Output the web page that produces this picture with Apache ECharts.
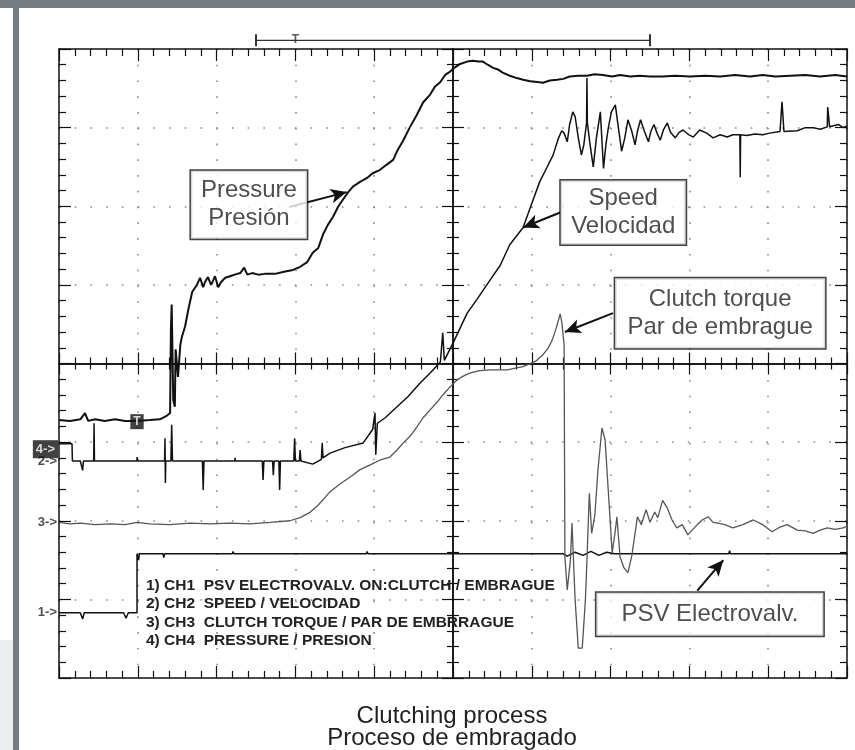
<!DOCTYPE html>
<html>
<head>
<meta charset="utf-8">
<script src="https://cdn.jsdelivr.net/npm/echarts@6/dist/echarts.min.js"></script>
<style>
  html, body { margin: 0; padding: 0; background: #fff; }
  #main { width: 855px; height: 750px; }
</style>
</head>
<body>
<div id="main"></div>
<script>
// scope capture in divisions (10 across, 8 up)
var psv = [[0,0.83],[0.27,0.83],[0.30,0.75],[0.32,0.83],[0.82,0.83],[0.85,0.76],[0.88,0.83],[0.99,0.83],
  [0.99,1.58],[1.01,1.50],[1.02,1.58],[1.32,1.58],[1.33,1.53],[1.34,1.58],[2.2,1.58],[2.21,1.61],[2.22,1.58],
  [3.9,1.58],[3.91,1.61],[3.92,1.58],[6.4,1.58],[6.45,1.55],[6.55,1.60],[6.65,1.56],[6.75,1.61],[6.85,1.56],
  [6.95,1.60],[7.05,1.58],[8.5,1.58],[8.51,1.62],[8.52,1.58],[10,1.58]];

var speed = [[0,2.98],[0.165,2.98],[0.17,2.76],[0.27,2.76],[0.30,2.64],[0.31,2.76],[0.44,2.76],[0.445,3.24],
  [0.45,2.76],[0.99,2.76],[0.99,2.81],[1.0,2.76],[1.34,2.76],[1.345,3.05],[1.35,2.48],[1.355,2.76],[1.42,2.76],
  [1.43,3.22],[1.44,2.76],[1.82,2.76],[1.83,2.39],[1.84,2.76],[2.23,2.76],[2.235,2.80],[2.24,2.76],[2.58,2.76],
  [2.59,2.52],[2.60,2.76],[2.71,2.76],[2.72,2.58],[2.73,2.76],[2.79,2.76],[2.80,2.39],[2.81,2.76],[2.98,2.76],
  [2.99,3.05],[3.0,2.76],[3.05,2.76],[3.06,2.90],[3.07,2.76],[3.22,2.72],[3.33,2.78],[3.34,2.99],[3.35,2.80],
  [3.44,2.86],[3.63,2.93],[3.86,2.99],[3.98,3.16],[4.01,3.37],[4.02,2.84],[4.04,3.24],[4.14,3.31],[4.29,3.45],
  [4.43,3.58],[4.58,3.75],[4.71,3.88],[4.84,4.02],[4.87,4.39],[4.89,4.04],[5.00,4.26],[5.09,4.45],[5.18,4.64],
  [5.30,4.81],[5.47,5.06],[5.60,5.25],[5.72,5.51],[5.89,5.73],[5.98,5.98],[6.10,6.31],[6.19,6.49],[6.27,6.65],
  [6.34,6.87],[6.38,6.96],[6.41,6.93],[6.45,6.82],[6.48,7.04],[6.52,7.20],[6.55,7.14],[6.59,6.87],[6.63,6.65],
  [6.66,6.78],[6.695,7.06],[6.70,7.63],[6.705,7.06],[6.74,6.78],[6.78,6.50],[6.82,6.87],[6.87,7.20],[6.91,6.48],
  [6.94,6.78],[6.97,6.99],[7.01,7.20],[7.06,7.29],[7.10,6.99],[7.14,6.70],[7.18,6.87],[7.22,7.10],[7.27,6.95],
  [7.31,6.78],[7.34,6.95],[7.38,7.10],[7.43,6.95],[7.48,6.82],[7.51,6.95],[7.55,7.04],[7.59,6.93],[7.63,6.84],
  [7.67,6.97],[7.72,7.06],[7.76,6.94],[7.82,6.87],[7.87,6.94],[7.92,6.97],[7.99,6.91],[8.05,6.88],[8.13,6.97],
  [8.22,6.93],[8.30,6.87],[8.39,6.91],[8.48,6.88],[8.55,6.91],[8.64,6.91],[8.645,6.37],[8.65,6.91],[8.73,6.90],
  [8.83,6.92],[8.93,6.91],[9.02,6.93],[9.15,6.95],[9.175,7.33],[9.20,6.95],[9.37,6.96],[9.47,7.00],[9.57,7.00],
  [9.66,6.98],[9.75,7.01],[9.755,7.26],[9.78,7.01],[9.89,7.04],[9.95,7.00],[10,7.02]];

var torque = [[0,1.98],[0.14,1.96],[0.27,1.97],[0.46,1.95],[0.65,1.96],[0.84,1.95],[0.99,1.98],[1.15,1.96],
  [1.41,1.95],[1.66,1.97],[1.92,1.96],[2.17,1.97],[2.42,1.96],[2.68,1.98],[2.93,2.00],[3.06,2.04],[3.19,2.11],
  [3.29,2.20],[3.38,2.30],[3.44,2.37],[3.57,2.47],[3.70,2.56],[3.82,2.65],[3.95,2.71],[4.07,2.77],[4.20,2.81],
  [4.29,2.90],[4.37,2.99],[4.46,3.08],[4.54,3.19],[4.62,3.31],[4.71,3.41],[4.80,3.51],[4.87,3.60],[4.96,3.70],
  [5.05,3.79],[5.13,3.84],[5.22,3.88],[5.34,3.91],[5.47,3.92],[5.60,3.92],[5.69,3.92],[5.79,3.94],[5.89,3.96],
  [5.98,4.00],[6.05,4.03],[6.14,4.11],[6.21,4.20],[6.26,4.30],[6.31,4.45],[6.36,4.63],[6.38,4.53],[6.41,4.24],
  [6.42,1.54],[6.45,1.12],[6.49,1.50],[6.51,1.97],[6.55,0.99],[6.59,0.38],[6.64,0.38],[6.68,0.99],[6.70,1.50],
  [6.73,2.35],[6.76,1.84],[6.80,2.07],[6.84,2.65],[6.89,3.18],[6.93,3.03],[6.97,2.39],[7.02,1.59],[7.06,1.88],
  [7.08,2.05],[7.12,1.54],[7.17,1.40],[7.22,1.34],[7.27,1.56],[7.34,2.05],[7.39,1.95],[7.45,2.14],[7.50,1.98],
  [7.56,2.11],[7.60,2.04],[7.66,2.26],[7.72,2.16],[7.78,2.01],[7.84,1.91],[7.91,1.95],[7.98,1.82],[8.10,1.95],
  [8.16,2.01],[8.24,2.05],[8.30,1.98],[8.36,1.97],[8.45,1.95],[8.55,1.91],[8.68,1.95],[8.81,2.01],[8.93,1.95],
  [9.05,1.86],[9.15,1.92],[9.24,1.95],[9.37,1.88],[9.47,1.87],[9.57,1.84],[9.66,1.88],[9.75,1.91],[9.85,1.89],
  [9.95,1.91],[10,1.93]];

var pressure = [[0,3.28],[0.14,3.27],[0.27,3.29],[0.33,3.37],[0.37,3.27],[0.46,3.29],[0.58,3.27],[0.71,3.29],
  [0.84,3.27],[0.99,3.27],[1.15,3.28],[1.28,3.29],[1.36,3.33],[1.41,3.37],[1.42,4.43],[1.43,4.75],[1.45,3.54],
  [1.47,3.45],[1.48,4.18],[1.51,3.83],[1.54,4.24],[1.56,4.34],[1.60,4.47],[1.64,4.68],[1.69,4.91],[1.73,4.97],
  [1.75,5.00],[1.79,5.09],[1.83,4.97],[1.85,5.03],[1.89,5.10],[1.93,5.00],[1.95,5.04],[1.98,5.11],[2.02,4.97],
  [2.06,5.04],[2.11,5.09],[2.17,5.11],[2.23,5.13],[2.30,5.15],[2.35,5.22],[2.39,5.13],[2.45,5.15],[2.53,5.13],
  [2.61,5.14],[2.74,5.14],[2.87,5.17],[2.97,5.19],[3.06,5.23],[3.15,5.29],[3.22,5.41],[3.29,5.47],[3.35,5.64],
  [3.41,5.76],[3.48,5.87],[3.54,5.99],[3.60,6.08],[3.67,6.18],[3.73,6.25],[3.82,6.31],[3.91,6.36],[3.98,6.42],
  [4.07,6.46],[4.16,6.53],[4.24,6.59],[4.30,6.72],[4.37,6.84],[4.45,7.00],[4.54,7.16],[4.62,7.32],[4.71,7.42],
  [4.77,7.52],[4.84,7.58],[4.90,7.67],[4.96,7.71],[5.03,7.77],[5.09,7.81],[5.18,7.84],[5.25,7.85],[5.32,7.84],
  [5.38,7.84],[5.44,7.80],[5.51,7.76],[5.57,7.74],[5.63,7.70],[5.72,7.66],[5.81,7.63],[5.89,7.61],[5.98,7.59],
  [6.07,7.58],[6.14,7.57],[6.23,7.60],[6.32,7.61],[6.40,7.62],[6.48,7.65],[6.59,7.66],[6.70,7.66],[6.80,7.68],
  [6.90,7.67],[7.02,7.65],[7.12,7.67],[7.25,7.65],[7.37,7.66],[7.50,7.65],[7.66,7.65],[7.82,7.66],[8.01,7.65],
  [8.20,7.66],[8.39,7.65],[8.58,7.67],[8.77,7.65],[8.93,7.67],[9.09,7.65],[9.28,7.66],[9.47,7.67],[9.66,7.65],
  [9.85,7.67],[10,7.65]];

var channelMarks = [['2->', 2.76], ['3->', 1.98], ['1->', 0.83]];
var activeMark = ['4->', 2.91];
var triggerMark = [0.99, 3.26];
var windowMark = [2.5, 3.0, 7.5];   // start, trigger, end

var notes = [
  { text: 'Pressure\nPresión', at: [2.41, 6.02], from: [2.92, 5.99], to: [3.65, 6.18] },
  { text: 'Speed\nVelocidad', at: [7.16, 5.92], from: [6.36, 5.92], to: [5.89, 5.73] },
  { text: 'Clutch torque\nPar de embrague', at: [8.39, 4.64], from: [7.03, 4.64], to: [6.42, 4.40] },
  { text: 'PSV Electrovalv.', at: [8.26, 0.81], from: [8.10, 1.11], to: [8.43, 1.50] }
];
var boxSize = [[118, 70], [127, 66], [212, 72], [229, 45]];

var channelText = [
  '1) CH1  PSV ELECTROVALV. ON:CLUTCH / EMBRAGUE',
  '2) CH2  SPEED / VELOCIDAD',
  '3) CH3  CLUTCH TORQUE / PAR DE EMBRRAGUE',
  '4) CH4  PRESSURE / PRESION'
];
var caption = ['Clutching process', 'Proceso de embragado'];

var FONT = 'Liberation Sans, Arial, sans-serif';
var myChart = echarts.init(document.getElementById('main'));

function xAx(pos, offset, inside, major, minor, split) {
  return {
    type: 'value', min: 0, max: 10, interval: 1, position: pos, offset: offset,
    axisLine: { onZero: false, lineStyle: { color: '#111', width: 1.5 } },
    axisTick: { inside: inside, length: major, lineStyle: { color: '#111', width: 1.2 } },
    minorTick: { show: true, splitNumber: 5, length: minor, lineStyle: { color: '#111', width: 1.2 } },
    axisLabel: { show: false },
    splitLine: { show: split, lineStyle: { color: '#8a8a8a', width: 1.6, type: [1.6, 14.16] } }
  };
}
function yAx(pos, offset, inside, major, minor, split) {
  var a = xAx(pos, offset, inside, major, minor, split);
  a.max = 8;
  a.splitLine.lineStyle.type = [1.6, 14.12];
  return a;
}

var lineBase = { type: 'line', showSymbol: false, symbol: 'none', animation: false, xAxisIndex: 0, yAxisIndex: 0 };
function trace(name, data, color, width) {
  return Object.assign({}, lineBase, { name: name, data: data, lineStyle: { color: color, width: width }, z: 3 });
}

var option = {
  backgroundColor: '#fff',
  animation: false,
  title: [
    {
      text: caption.join('\n'), left: 452, top: 705, padding: 0, textAlign: 'center',
      textStyle: { fontFamily: FONT, fontSize: 24, fontWeight: 'normal', color: '#222', lineHeight: 22 }
    },
    {
      text: channelText.join('\n'), left: 146, top: 576, padding: 0,
      textStyle: { fontFamily: FONT, fontSize: 15.5, fontWeight: 'bold', color: '#222', lineHeight: 18.5 }
    }
  ],
  grid: { left: 59, top: 49, width: 788, height: 629 },
  xAxis: [
    xAx('bottom', 0, true, 12, 7, true),
    xAx('top', 0, true, 12, 7, false),
    xAx('bottom', -314.5, true, 11, 6, false),
    xAx('bottom', -314.5, false, 11, 6, false)
  ],
  yAxis: [
    yAx('left', 0, true, 12, 7, true),
    yAx('right', 0, true, 12, 7, false),
    yAx('left', -394, true, 11, 6, false),
    yAx('left', -394, false, 11, 6, false)
  ],
  series: [
    trace('CH1', psv, '#111', 1.5),
    trace('CH2', speed, '#111', 1.5),
    trace('CH3', torque, '#555', 1.3),
    trace('CH4', pressure, '#111', 2),
    {
      type: 'scatter', symbolSize: 0, animation: false, z: 5,
      data: channelMarks.map(function (m) { return { name: m[0], value: [0, m[1]] }; }),
      label: { show: true, position: 'left', distance: 2, formatter: '{b}',
        fontFamily: FONT, fontSize: 13, fontWeight: 'bold', color: '#222', textBorderWidth: 0 }
    },
    {
      type: 'scatter', symbolSize: 0, animation: false, z: 6,
      data: [{ name: activeMark[0], value: [0, activeMark[1]] }],
      label: { show: true, position: 'left', distance: 1, formatter: '{b}',
        fontFamily: FONT, fontSize: 13, fontWeight: 'bold', color: '#fff', textBorderWidth: 0,
        backgroundColor: '#111', padding: [3, 3, 2, 3] }
    },
    {
      type: 'scatter', symbolSize: 0, animation: false, z: 6,
      data: [{ name: 'T', value: triggerMark }],
      label: { show: true, position: 'inside', formatter: '{b}',
        fontFamily: FONT, fontSize: 12, fontWeight: 'bold', color: '#fff', textBorderWidth: 0,
        backgroundColor: '#111', padding: [2, 3, 1, 3] }
    },
    {
      type: 'line', animation: false, clip: false, z: 4,
      data: [[windowMark[0], 8.11], [windowMark[2], 8.11]],
      symbol: 'rect', symbolSize: [2, 12], showSymbol: true,
      itemStyle: { color: '#333' }, lineStyle: { color: '#333', width: 1.2 }
    },
    {
      type: 'scatter', animation: false, clip: false, z: 4, symbolSize: 0,
      data: [[windowMark[1], 8.12]],
      label: { show: true, position: 'inside', formatter: 'T',
        fontFamily: FONT, fontSize: 12, fontWeight: 'bold', color: '#333', textBorderWidth: 0 }
    },
    {
      type: 'scatter', symbolSize: 0, animation: false, z: 8,
      data: notes.map(function (n, i) {
        return {
          name: n.text, value: n.at,
          label: { width: boxSize[i][0] - 4, height: boxSize[i][1] - 4 }
        };
      }),
      label: { show: true, position: 'inside', formatter: '{b}', align: 'center', verticalAlign: 'middle',
        fontFamily: FONT, fontSize: 24, color: '#222', lineHeight: 28, textBorderWidth: 0,
        backgroundColor: '#fff', borderColor: '#111', borderWidth: 1.5, padding: 1 },
      markLine: {
        silent: true, symbol: ['none', 'arrow'], symbolSize: [11, 16],
        lineStyle: { color: '#111', width: 2, type: 'solid' },
        label: { show: false },
        data: notes.map(function (n) { return [{ coord: n.from }, { coord: n.to }]; })
      }
    }
  ],
  graphic: [
    { type: 'rect', left: 0, top: 0, shape: { width: 855, height: 8 }, style: { fill: '#777c82' }, silent: true },
    { type: 'rect', left: 13, top: 0, shape: { width: 6, height: 750 }, style: { fill: '#777c82' }, silent: true },
    { type: 'rect', left: 0, top: 640, shape: { width: 13, height: 110 }, style: { fill: '#eceef0' }, silent: true }
  ]
};

myChart.setOption(option);
</script>
</body>
</html>
